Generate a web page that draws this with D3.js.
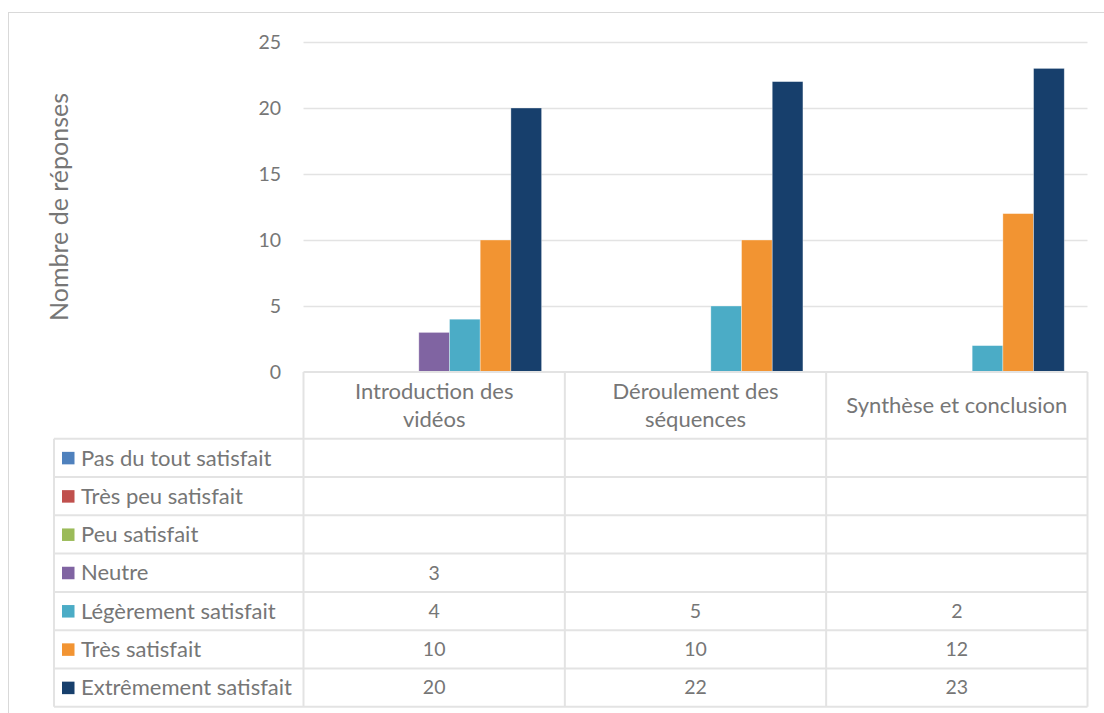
<!DOCTYPE html>
<html>
<head>
<meta charset="utf-8">
<script src="https://cdn.jsdelivr.net/npm/d3@7"></script>
<style>
  html, body { margin: 0; padding: 0; background: #ffffff; }
  svg { display: block; }
  text { font-family: "Lato", "Liberation Sans", sans-serif; fill: #767676; }
</style>
</head>
<body>
<svg id="chart" width="1104" height="713"></svg>
<script>
// ---- data ----
const categories = ["Introduction des vidéos", "Déroulement des séquences", "Synthèse et conclusion"];
const categoryLines = [["Introduction des", "vidéos"], ["Déroulement des", "séquences"], ["Synthèse et conclusion"]];
const seriesNames = ["Pas du tout satisfait", "Très peu satisfait", "Peu satisfait", "Neutre", "Légèrement satisfait", "Très satisfait", "Extrêmement satisfait"];
const seriesColors = ["#4F81BD", "#C0504D", "#9BBB59", "#8064A2", "#4BACC6", "#F29432", "#173F6C"];
const pasDuTout = [null, null, null];
const tresPeu = [null, null, null];
const peu = [null, null, null];
const neutre = [3, null, null];
const legerement = [4, 5, 2];
const tresSatisfait = [10, 10, 12];
const extremement = [20, 22, 23];
const yTicks = [0, 5, 10, 15, 20, 25];
const yTitle = "Nombre de réponses";

const seriesValues = [pasDuTout, tresPeu, peu, neutre, legerement, tresSatisfait, extremement];

// ---- layout ----
const svg = d3.select("#chart");
const plotLeft = 303.5, plotRight = 1087.5, plotTop = 42, plotBottom = 372;
const tableLeft = 54, headerBottom = 438.7, rowH = 38.3;
const gridColor = "#e3e3e3";
const labelSize = "22px", numSize = "19.5px";

// outer chart border
svg.append("rect").attr("x", 8.5).attr("y", 12.5).attr("width", 1110).attr("height", 720)
  .attr("fill", "none").attr("stroke", "#d9d9d9").attr("stroke-width", 1);

const x = d3.scaleBand().domain(categories).range([plotLeft, plotRight]).paddingInner(0).paddingOuter(0);
const xs = d3.scaleBand().domain(seriesNames).range([0, x.bandwidth()]).paddingInner(0).paddingOuter(0.757);
const y = d3.scaleLinear().domain([0, 25]).range([plotBottom, plotTop]);

// gridlines
const grid = svg.append("g").attr("transform", `translate(${plotLeft},0)`)
  .call(d3.axisLeft(y).tickValues(yTicks.filter(t => t > 0)).tickSize(-(plotRight - plotLeft)).tickFormat(""));
grid.select(".domain").remove();
grid.selectAll(".tick line").attr("stroke", gridColor).attr("stroke-width", 1.5);

// y axis labels
const yAxis = svg.append("g").attr("transform", `translate(281,0)`)
  .call(d3.axisLeft(y).tickValues(yTicks).tickSize(0).tickPadding(0));
yAxis.select(".domain").remove();
yAxis.selectAll(".tick text").style("font-size", numSize).attr("fill", "#767676")
  .style("font-family", "Lato, sans-serif");

// y title
svg.append("text").attr("transform", `translate(68,${(plotTop + plotBottom) / 2 + 0}) rotate(-90)`)
  .attr("text-anchor", "middle").style("font-size", "25px").text(yTitle);

// bars
const rows = [];
seriesNames.forEach((s, si) => {
  categories.forEach((c, ci) => {
    rows.push({ s, si, c, v: seriesValues[si][ci] });
  });
});
svg.append("g").selectAll("rect").data(rows.filter(d => d.v !== null && d.v > 0)).join("rect")
  .attr("x", d => x(d.c) + xs(d.s))
  .attr("width", xs.bandwidth())
  .attr("y", d => y(d.v))
  .attr("height", d => y(0) - y(d.v))
  .attr("fill", d => seriesColors[d.si])
  .attr("stroke", "rgba(255,255,255,0.45)")
  .attr("stroke-width", 0.75);

// ---- data table ----
const tableBottom = headerBottom + rowH * seriesNames.length;
const tg = svg.append("g").attr("stroke", gridColor).attr("stroke-width", 2);
// x-axis line / header top
tg.append("line").attr("x1", plotLeft).attr("x2", plotRight).attr("y1", plotBottom).attr("y2", plotBottom);
// row lines
for (let i = 0; i <= seriesNames.length; i++) {
  const yy = headerBottom + i * rowH;
  tg.append("line").attr("x1", tableLeft).attr("x2", plotRight).attr("y1", yy).attr("y2", yy);
}
// vertical lines
tg.append("line").attr("x1", tableLeft).attr("x2", tableLeft).attr("y1", headerBottom).attr("y2", tableBottom);
categories.forEach(c => {
  tg.append("line").attr("x1", x(c)).attr("x2", x(c)).attr("y1", plotBottom).attr("y2", tableBottom);
});
tg.append("line").attr("x1", plotRight).attr("x2", plotRight).attr("y1", plotBottom).attr("y2", tableBottom);

// header labels
categories.forEach((c, ci) => {
  const lines = categoryLines[ci];
  const cx = x(c) + x.bandwidth() / 2;
  const midY = (plotBottom + headerBottom) / 2;
  const lh = 28;
  lines.forEach((ln, li) => {
    svg.append("text").attr("x", cx)
      .attr("y", midY + (li - (lines.length - 1) / 2) * lh)
      .attr("dy", "0.35em")
      .attr("text-anchor", "middle").style("font-size", labelSize).text(ln);
  });
});

// legend column + values
seriesNames.forEach((s, si) => {
  const cy = headerBottom + si * rowH + rowH / 2;
  svg.append("rect").attr("x", 62).attr("y", cy - 6).attr("width", 12.5).attr("height", 12.5)
    .attr("fill", seriesColors[si]);
  svg.append("text").attr("x", 81).attr("y", cy).attr("dy", "0.35em")
    .style("font-size", labelSize).text(s);
  categories.forEach((c, ci) => {
    const v = seriesValues[si][ci];
    if (v !== null) {
      svg.append("text").attr("x", x(c) + x.bandwidth() / 2).attr("y", cy).attr("dy", "0.35em")
        .attr("text-anchor", "middle").style("font-size", numSize).text(v);
    }
  });
});
</script>
</body>
</html>
